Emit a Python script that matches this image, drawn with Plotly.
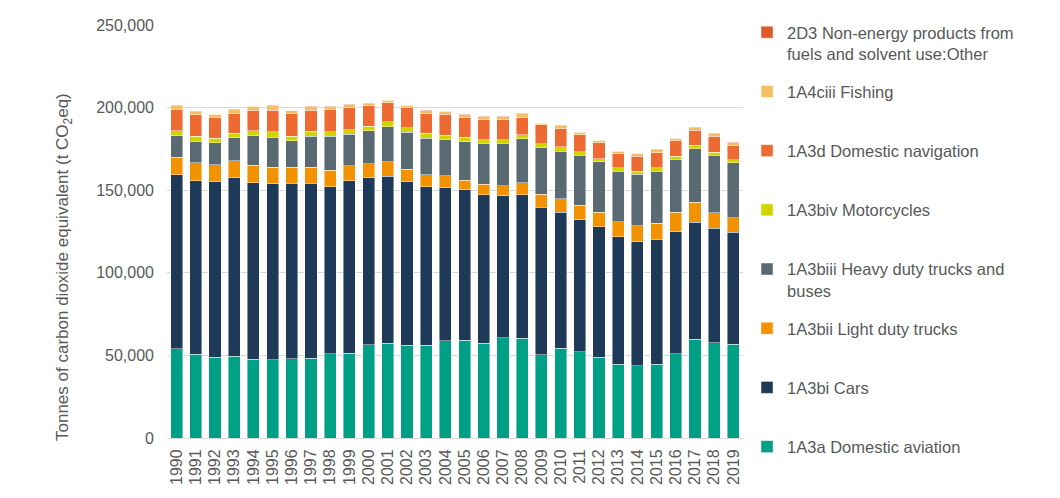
import plotly.graph_objects as go

years = [str(y) for y in range(1990, 2020)]

aviation = [54100, 50850, 49000, 49600, 47600, 47400, 48000, 48400, 51050, 51300,
            56500, 57500, 56100, 56100, 59000, 59300, 57300, 60700, 60300, 50450,
            54300, 52300, 49000, 44600, 43600, 44600, 51050, 59700, 57700, 56900]
cars = [105200, 104850, 106000, 107800, 107000, 106400, 106200, 105800, 101150, 104500,
        100900, 100900, 98900, 95850, 92400, 91000, 89800, 85800, 87000, 89150,
        82500, 79900, 78900, 77100, 75300, 75700, 73850, 70900, 69200, 67600]
light_trucks = [10600, 11000, 10500, 10500, 10500, 10200, 9650, 9650, 10000, 9100,
                8500, 8700, 7600, 7450, 7200, 5700, 6500, 6100, 7300, 7900,
                8100, 8700, 8900, 9100, 9450, 9700, 11900, 12100, 9500, 8900]
heavy_trucks = [13100, 12900, 13300, 13900, 17900, 18000, 15950, 18750, 20400, 18900,
                19950, 21400, 22400, 22200, 21800, 23400, 24800, 25800, 26400, 28300,
                28800, 30200, 30300, 30800, 31250, 31400, 31800, 32500, 34900, 33300]
motorcycles = [3050, 3200, 2800, 2600, 3050, 3250, 3000, 3050, 2850, 2900,
               2850, 3000, 2700, 3000, 3000, 2600, 2200, 2200, 2600, 2400,
               2500, 2200, 2000, 1850, 2000, 2050, 1900, 2000, 1800, 1800]
navigation = [12900, 12900, 12300, 12150, 12500, 13300, 13750, 12900, 13500, 13500,
              12300, 11500, 12100, 11700, 12500, 12300, 12100, 12100, 10700, 11300,
              10900, 10300, 9500, 8650, 9100, 9250, 9300, 9050, 9500, 8700]
fishing = [2100, 1800, 2100, 2100, 2300, 2500, 1700, 2100, 1700, 1500,
           1300, 1500, 1500, 1800, 1800, 1500, 1700, 1900, 1900, 1100,
           1900, 1550, 1500, 1550, 1700, 1750, 1700, 1550, 1500, 1500]
non_energy = [300, 300, 300, 300, 300, 300, 300, 300, 300, 300,
              300, 300, 300, 300, 300, 300, 300, 300, 300, 300,
              300, 300, 300, 300, 300, 300, 300, 300, 300, 300]

series = [
    ("1A3a Domestic aviation<br> ", aviation, "#00A086"),
    ("1A3bi Cars<br> ", cars, "#1E3A58"),
    ("1A3bii Light duty trucks<br> ", light_trucks, "#F39200"),
    ("1A3biii Heavy duty trucks and<br>buses", heavy_trucks, "#5A6A72"),
    ("1A3biv Motorcycles<br> ", motorcycles, "#D0D500"),
    ("1A3d Domestic navigation<br> ", navigation, "#EE6A33"),
    ("1A4ciii Fishing<br> ", fishing, "#F5BE62"),
    ("2D3 Non-energy products from<br>fuels and solvent use:Other", non_energy, "#E05A28"),
]

fig = go.Figure()
n = len(series)
for i, (name, vals, col) in enumerate(series):
    fig.add_trace(go.Bar(
        x=years, y=vals, name=name, legendgroup=f"g{i}", legendrank=n - i,
        marker=dict(color=col, line=dict(color="rgba(255,255,255,0.55)", width=0.8)),
    ))

font_family = "Liberation Sans, Arial, sans-serif"
grey = "#595959"

fig.update_layout(
    width=1060, height=498,
    barmode="stack", bargap=0.37,
    plot_bgcolor="white", paper_bgcolor="white",
    margin=dict(l=167, r=317, t=25, b=60),
    font=dict(family=font_family, color=grey, size=16),
    xaxis=dict(
        type="category", tickangle=-90, showgrid=False,
        showline=True, linecolor="#D9D9D9", linewidth=1,
        ticks="", tickfont=dict(size=16, color=grey), ticklabelstandoff=4,
    ),
    yaxis=dict(
        range=[0, 250000], dtick=50000, tickformat=",d",
        showgrid=True, gridcolor="#D9D9D9", gridwidth=1,
        zeroline=False, showline=False, ticks="",
        tickfont=dict(size=16, color=grey), ticklabelstandoff=12,
    ),
    legend=dict(
        x=1.007, xanchor="left", y=1.0 + 10 / 413, yanchor="top",
        traceorder="grouped", tracegroupgap=13.3, maxheight=498,
        valign="top", font=dict(size=16.5, color=grey),
        bgcolor="rgba(0,0,0,0)",
    ),
    showlegend=True,
)

fig.add_annotation(
    text="Tonnes of carbon dioxide equivalent (t CO<sub>2</sub>eq)",
    xref="paper", yref="paper", x=(64 - 167) / 576, y=(438 - 267) / 413,
    xanchor="center", yanchor="middle", textangle=-90, showarrow=False,
    font=dict(size=17, color=grey, family=font_family),
)

fig.write_html("out.html")
